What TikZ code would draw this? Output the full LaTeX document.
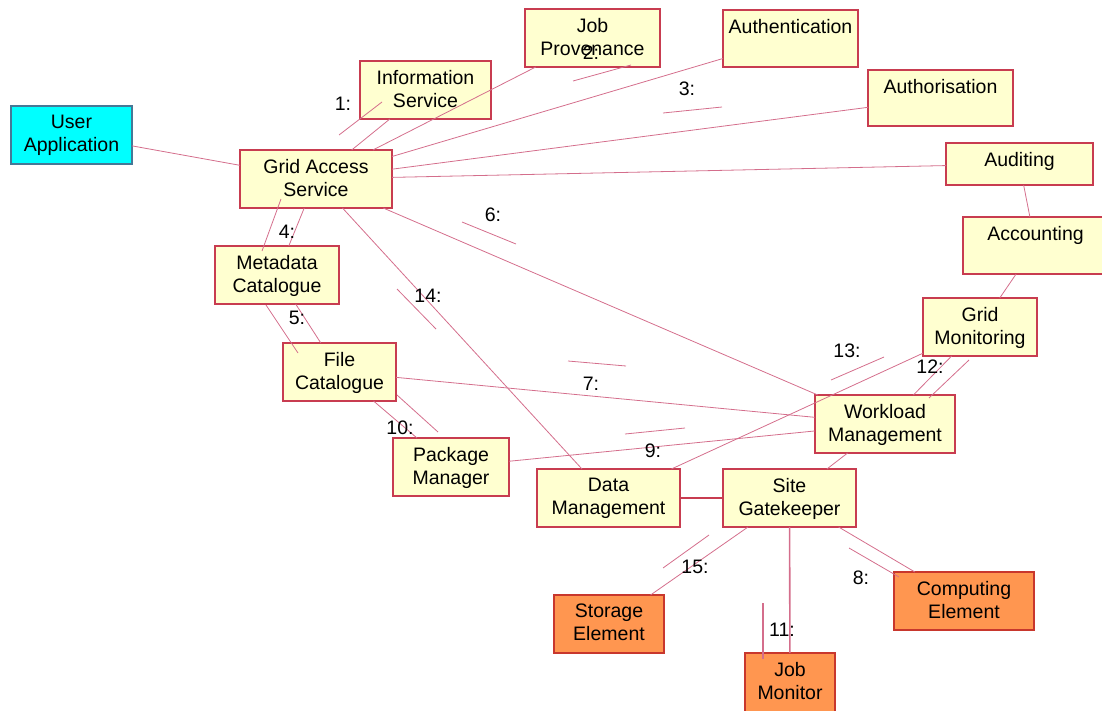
\documentclass[tikz,border=0pt]{standalone}
\usepackage{fontspec}
\setmainfont{Liberation Sans}
\definecolor{boxfill}{RGB}{255,255,208}
\definecolor{boxdraw}{RGB}{200,60,80}
\definecolor{orfill}{RGB}{255,150,80}
\definecolor{ordraw}{RGB}{200,55,45}
\definecolor{cyfill}{RGB}{0,255,255}
\definecolor{cydraw}{RGB}{70,120,150}
\definecolor{wire}{RGB}{212,110,140}
\tikzset{
  yb/.style={draw=boxdraw, fill=boxfill, line width=1.2pt, inner sep=0pt, outer sep=0pt},
  ob/.style={draw=ordraw, fill=orfill, line width=1.2pt, inner sep=0pt, outer sep=0pt},
  cb/.style={draw=cydraw, fill=cyfill, line width=1.2pt, inner sep=0pt, outer sep=0pt},
  txt/.style={font=\fontsize{19.5}{23}\selectfont, align=center, inner sep=0pt, anchor=north},
  lbl/.style={font=\fontsize{19.5}{23}\selectfont, inner sep=0pt},
  conn/.style={draw=wire, line width=0.8pt},
  thickconn/.style={draw=wire, line width=1.6pt},
  dmconn/.style={draw=boxdraw, line width=1.3pt},
  msg/.style={draw=wire, line width=0.8pt},
}
\newcommand\bx[7]{%
  \node[#6, minimum width={(#4)-(#2)}, minimum height={(#5)-(#3)}] (#1) at ({((#2)+(#4))/2},{((#3)+(#5))/2}) {};
  \node[txt] (#1-t) at ([yshift=-9pt]#1.north) {#7};
}
\begin{document}
\begin{tikzpicture}[x=1pt,y=-1pt]
\useasboundingbox (0,0) rectangle (1102,710);
% boxes
\bx{ua}{11}{106}{132}{164}{cb}{User\\Application}
\bx{gas}{240}{150}{392}{208}{yb}{Grid Access\\Service}
\bx{info}{360}{61}{491}{119}{yb}{Information\\Service}
\bx{jp}{525}{9}{660}{67}{yb}{Job\\Provenance}
\bx{authn}{723}{10}{858}{67}{yb}{Authentication}
\bx{authz}{868}{70}{1013}{126}{yb}{Authorisation}
\bx{aud}{946}{143}{1093}{185}{yb}{Auditing}
\bx{acc}{963}{217}{1108}{274}{yb}{Accounting}
\bx{gm}{923}{298}{1037}{356}{yb}{Grid\\Monitoring}
\bx{meta}{215}{246}{339}{304}{yb}{Metadata\\Catalogue}
\bx{fc}{283}{343}{396}{401}{yb}{File\\Catalogue}
\bx{pm}{393}{438}{509}{496}{yb}{Package\\Manager}
\bx{wm}{815}{395}{955}{453}{yb}{Workload\\Management}
\bx{dm}{537}{469}{680}{527}{yb}{Data\\Management}
\bx{sg}{723}{469}{856}{527}{yb}{Site\\Gatekeeper}
\bx{se}{554}{595}{664}{653}{ob}{Storage\\Element}
\bx{ce}{894}{572}{1034}{630}{ob}{Computing\\Element}
\bx{jm}{745}{653}{835}{712}{ob}{Job\\Monitor}
% connectors
\draw[conn] (ua) -- (gas);
\draw[conn] (gas) -- (info);
\draw[conn] (gas) -- (jp);
\draw[conn] (gas) -- (authn);
\draw[conn] (gas) -- (authz);
\draw[conn] (gas) -- (aud);
\draw[conn] (aud) -- (acc);
\draw[conn] (acc) -- (gm);
\draw[conn] (gas) -- (meta);
\draw[conn] (meta) -- (fc);
\draw[conn] (fc) -- (pm);
\draw[conn] (gas) -- (wm);
\draw[conn] (gas) -- (dm);
\draw[conn] (fc) -- (wm);
\draw[conn] (pm) -- (wm);
\draw[conn] (dm) -- (gm);
\draw[conn] (wm) -- (gm);
\draw[conn] (wm) -- (sg);
\draw[dmconn] (dm) -- (sg);
\draw[conn] (sg) -- (se);
\draw[thickconn] (sg) -- (jm);
\draw[conn] (sg) -- (ce);
% message lines
\draw[msg] (339,135) -- (382,102);
\draw[msg] (573,81) -- (631,65);
\draw[msg] (663,113) -- (722,107);
\draw[msg] (281,199) -- (262,251);
\draw[msg] (266,305) -- (298,353);
\draw[msg] (462,222) -- (516,244);
\draw[msg] (568,361) -- (626,366);
\draw[msg] (625,434) -- (685,428);
\draw[msg] (397,395) -- (438,432);
\draw[thickconn] (763,603) -- (763,659);
\draw[msg] (929,398) -- (969,360);
\draw[msg] (831,380) -- (884,357);
\draw[msg] (397,289) -- (436,329);
\draw[msg] (709,535) -- (663,568);
\draw[msg] (849,548) -- (899,577);
% labels
\node[lbl] (l1) at (343,104) {1:};
\node[lbl] (l2) at (591,53) {2:};
\node[lbl] (l3) at (687,89) {3:};
\node[lbl] (l4) at (287,232) {4:};
\node[lbl] (l5) at (297,318) {5:};
\node[lbl] (l6) at (493,215) {6:};
\node[lbl] (l7) at (591,384) {7:};
\node[lbl] (l8) at (861,578) {8:};
\node[lbl] (l9) at (653,451) {9:};
\node[lbl] (l10) at (400,428) {10:};
\node[lbl] (l11) at (782,630) {11:};
\node[lbl] (l12) at (930,367) {12:};
\node[lbl] (l13) at (847,351) {13:};
\node[lbl] (l14) at (428,296) {14:};
\node[lbl] (l15) at (695,567) {15:};
\end{tikzpicture}
\end{document}
